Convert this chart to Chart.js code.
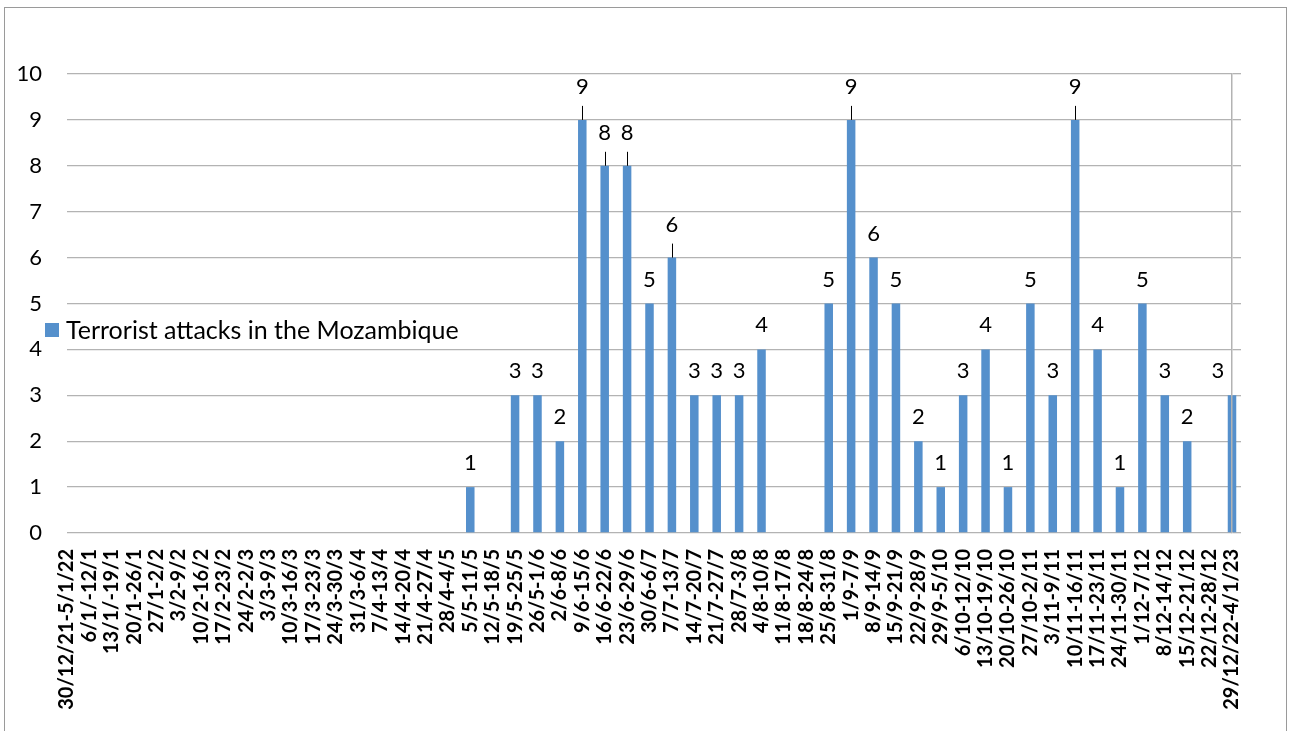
<!DOCTYPE html>
<html>
<head>
<meta charset="utf-8">
<script src="https://cdn.jsdelivr.net/npm/chart.js@4/dist/chart.umd.min.js"></script>
<style>
html,body{margin:0;padding:0;background:#fff;}
#wrap{width:1290px;height:731px;position:relative;}
</style>
</head>
<body>
<div id="wrap"><canvas id="c" width="1290" height="731"></canvas></div>
<script>
const categories = [
 "30/12/21-5/1/22","6/1/-12/1","13/1/-19/1","20/1-26/1","27/1-2/2","3/2-9/2","10/2-16/2","17/2-23/2",
 "24/2-2/3","3/3-9/3","10/3-16/3","17/3-23/3","24/3-30/3","31/3-6/4","7/4-13/4","14/4-20/4",
 "21/4-27/4","28/4-4/5","5/5-11/5","12/5-18/5","19/5-25/5","26/5-1/6","2/6-8/6","9/6-15/6",
 "16/6-22/6","23/6-29/6","30/6-6/7","7/7-13/7","14/7-20/7","21/7-27/7","28/7-3/8","4/8-10/8",
 "11/8-17/8","18/8-24/8","25/8-31/8","1/9-7/9","8/9-14/9","15/9-21/9","22/9-28/9","29/9-5/10",
 "6/10-12/10","13/10-19/10","20/10-26/10","27/10-2/11","3/11-9/11","10/11-16/11","17/11-23/11","24/11-30/11",
 "1/12-7/12","8/12-14/12","15/12-21/12","22/12-28/12","29/12/22-4/1/23"
];
const attacks = [
 0,0,0,0,0,0,0,0,
 0,0,0,0,0,0,0,0,
 0,0,1,0,3,3,2,9,
 8,8,5,6,3,3,3,4,
 0,0,5,9,6,5,2,1,
 3,4,1,5,3,9,4,1,
 5,3,2,0,3
];
const seriesLabel = "Terrorist attacks in the Mozambique";
const yTicks = [0,1,2,3,4,5,6,7,8,9,10];
// labels that Excel moved up and joined with a leader line
const leaderIdx = [23,24,25,27,35,45];

const FONT = "Lato, 'Open Sans', sans-serif";
const BAR = "#5590CC";
const GRID = "#b3b3b3";

const framePlugin = {
  id: 'frame',
  beforeDraw(chart) {
    const ctx = chart.ctx;
    ctx.save();
    ctx.fillStyle = '#fff';
    ctx.fillRect(0, 0, chart.width, chart.height);
    ctx.strokeStyle = '#9a9a9a';
    ctx.lineWidth = 1;
    ctx.strokeRect(4.5, 7.5, 1282, 740);
    ctx.restore();
  }
};

const labelPlugin = {
  id: 'barLabels',
  afterDatasetsDraw(chart) {
    const ctx = chart.ctx;
    const meta = chart.getDatasetMeta(0);
    const area = chart.chartArea;
    ctx.save();
    ctx.font = "22px " + FONT;
    ctx.fillStyle = '#000';
    ctx.textAlign = 'center';
    ctx.textBaseline = 'middle';
    meta.data.forEach((bar, i) => {
      const v = attacks[i];
      if (!v) return;
      let x = bar.x;
      const w = ctx.measureText(String(v)).width;
      if (x + w / 2 > area.right - 4) x = area.right - 14;
      if (leaderIdx.includes(i)) {
        ctx.strokeStyle = '#000';
        ctx.lineWidth = 1;
        ctx.beginPath();
        ctx.moveTo(Math.round(bar.x) + 0.5, bar.y);
        ctx.lineTo(Math.round(bar.x) + 0.5, bar.y - 14);
        ctx.stroke();
        ctx.fillText(String(v), x, bar.y - 33);
      } else {
        ctx.fillText(String(v), x, bar.y - 24);
      }
    });
    // floating legend
    ctx.fillStyle = BAR;
    ctx.fillRect(45, 323, 14, 14);
    ctx.fillStyle = '#000';
    ctx.textAlign = 'left';
    ctx.font = "25px " + FONT;
    ctx.fillText(chart.data.datasets[0].label, 66, 331);
    ctx.restore();
  }
};

new Chart(document.getElementById('c'), {
  type: 'bar',
  data: {
    labels: categories,
    datasets: [{
      label: seriesLabel,
      data: attacks,
      backgroundColor: BAR,
      borderWidth: 0,
      barPercentage: 0.38,
      categoryPercentage: 1.0,
      clip: false
    }]
  },
  options: {
    responsive: false,
    animation: false,
    layout: { padding: { top: 74, left: 0, right: 0, bottom: 0 } },
    plugins: { legend: { display: false }, tooltip: { enabled: false } },
    scales: {
      x: {
        offset: false,
        grid: { display: false, drawTicks: false },
        border: { display: false },
        ticks: {
          autoSkip: false, minRotation: 90, maxRotation: 90, padding: 16,
          color: '#000', font: { family: FONT, size: 20, weight: 'bold' }
        },
        afterFit(s) { s.height = 198; }
      },
      y: {
        min: 0, max: 10,
        afterBuildTicks(s) { s.ticks = yTicks.map(v => ({ value: v })); },
        grid: { color: GRID, lineWidth: 1.3, drawTicks: false },
        border: { display: false },
        ticks: { padding: 25, color: '#000', font: { family: FONT, size: 22 } },
        afterFit(s) { s.width = 67; }
      },
      y2: {
        position: 'right',
        min: 0, max: 10,
        afterBuildTicks(s) { s.ticks = yTicks.map(v => ({ value: v })); },
        grid: { drawOnChartArea: false, color: GRID, lineWidth: 1.3, tickLength: 9 },
        border: { display: true, color: GRID, width: 1.5, z: 1 },
        ticks: { display: false },
        afterFit(s) { s.width = 58; }
      }
    }
  },
  plugins: [framePlugin, labelPlugin]
});
</script>
</body>
</html>
